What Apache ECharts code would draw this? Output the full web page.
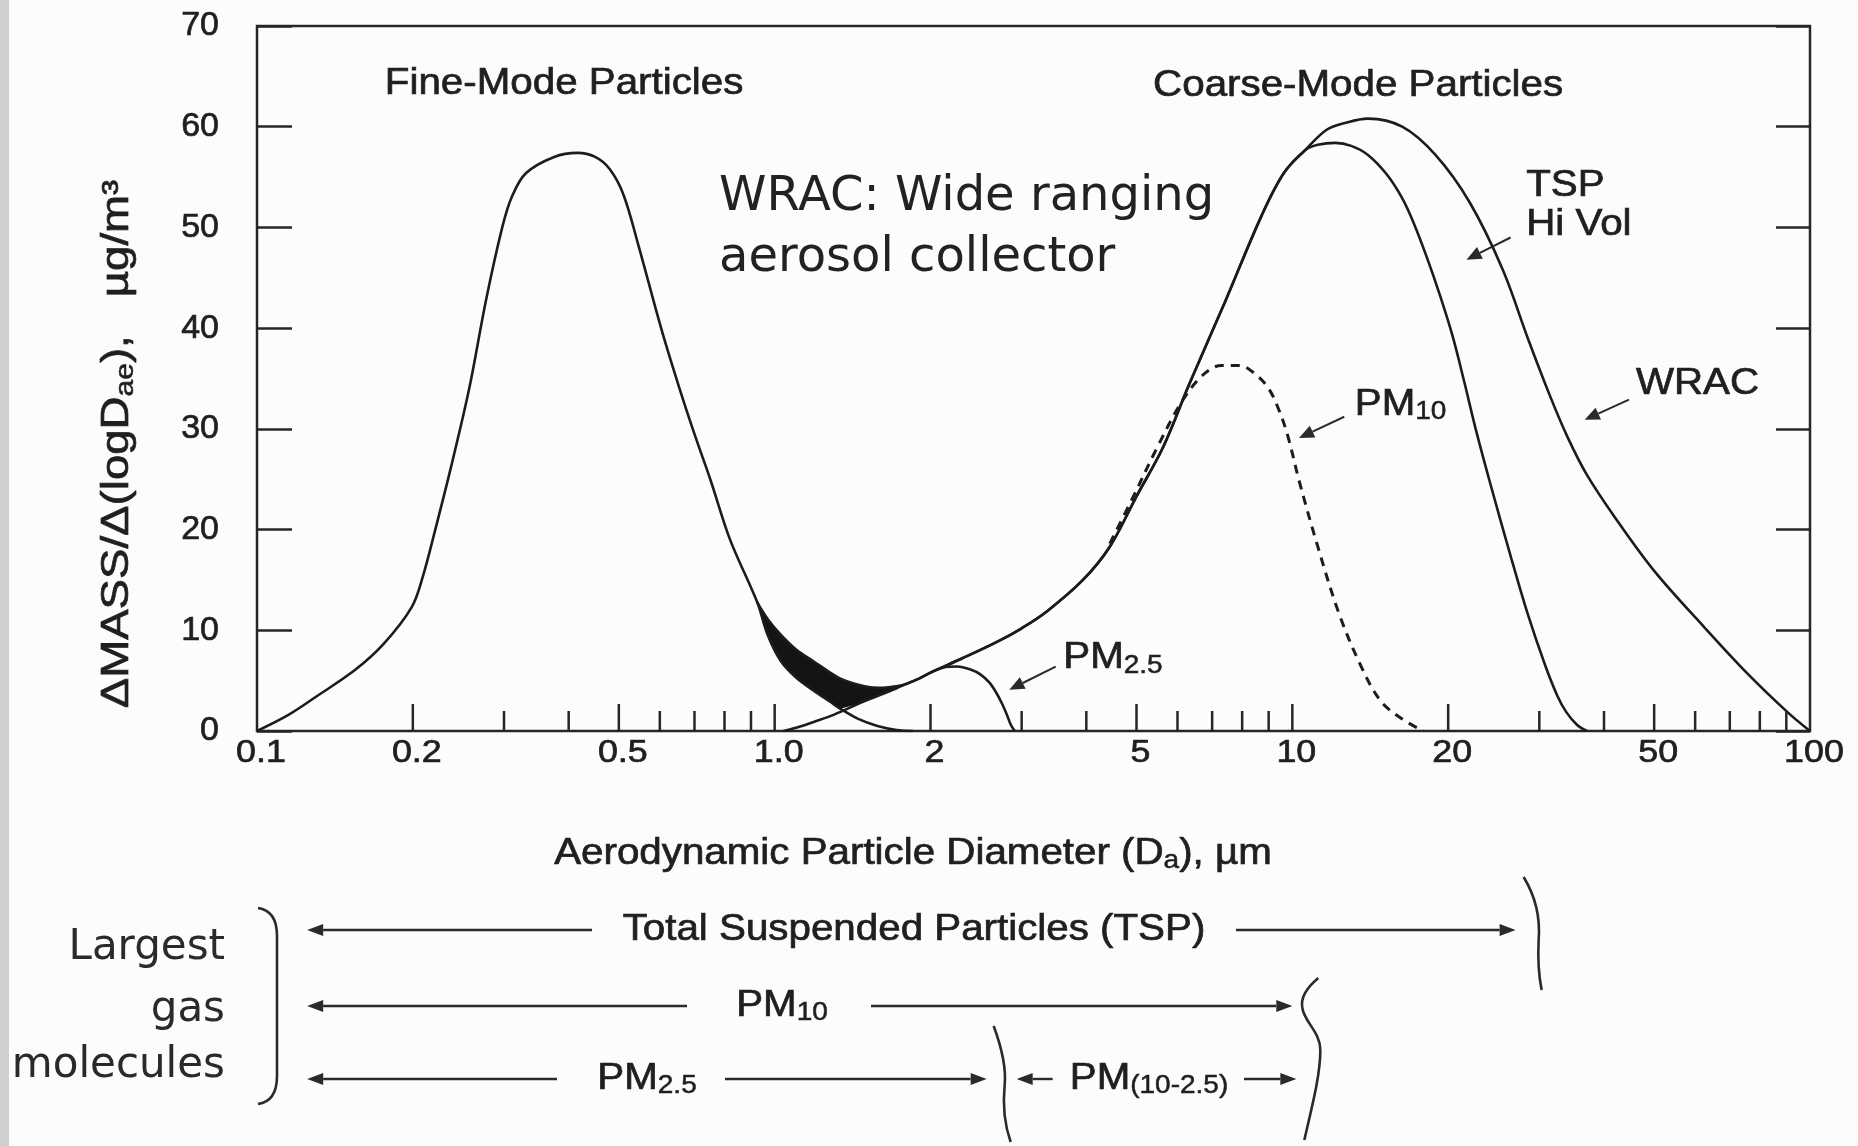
<!DOCTYPE html>
<html>
<head>
<meta charset="utf-8">
<title>Aerosol mass distribution</title>
<script src="https://cdn.jsdelivr.net/npm/echarts@6/dist/echarts.min.js"></script>
<style>
  html, body { margin: 0; padding: 0; background: #fcfcfc; }
  #chart { width: 1858px; height: 1146px; }
</style>
</head>
<body>
<div id="chart"></div>
<script>
// values: diameter in µm, ΔMASS/Δ(logD) in µg/m3
const fineX = [0.1, 0.115, 0.13, 0.155, 0.176, 0.199, 0.209, 0.221, 0.237, 0.257, 0.277, 0.298, 0.311, 0.331, 0.375, 0.416, 0.45, 0.48, 0.51, 0.545, 0.605, 0.655, 0.702, 0.752, 0.82, 0.925, 0.97, 1.026, 1.1, 1.19, 1.28, 1.34, 1.45, 1.58, 1.72, 1.85];
const fineY = [0, 1.6, 3.4, 6.1, 8.7, 12.3, 15.3, 20.0, 26.2, 34.0, 42.8, 50.1, 53.1, 55.4, 57.0, 57.4, 57.0, 55.8, 53.3, 48.3, 39.8, 34.0, 29.3, 24.9, 19.0, 12.8, 9.5, 7.0, 5.3, 4.0, 2.9, 2.2, 1.2, 0.5, 0.1, 0];

// coarse mode, rising part shared by TSP and WRAC
const coarseX = [1.04, 1.12, 1.19, 1.27, 1.34, 1.45, 1.53, 1.62, 1.72, 1.8, 1.9, 2.0, 2.3, 2.7, 3.0, 3.36, 3.94, 4.44, 5.0, 5.63, 6.33, 7.44, 8.71, 9.63, 10.6];
const coarseY = [0, 0.45, 0.9, 1.4, 1.9, 2.7, 3.2, 3.7, 4.25, 4.7, 5.2, 5.8, 7.2, 8.9, 10.2, 11.9, 15.0, 18.3, 23.3, 28.2, 34.5, 42.8, 51.1, 55.4, 57.7];

const tspX = [11.2, 12.1, 13.0, 14.0, 15.2, 16.3, 17.2, 18.2, 19.3, 20.4, 21.5, 22.6, 24.2, 26.5, 28.5, 30.8, 32.5, 33.8, 35.5, 37.1];
const tspY = [58.2, 58.4, 58.1, 57.2, 55.3, 52.9, 50.3, 47.0, 43.2, 39.2, 34.6, 30.0, 24.3, 17.1, 11.6, 6.5, 3.5, 1.9, 0.6, 0];

const wracX = [11.65, 12.7, 14.0, 16.3, 18.9, 22.0, 25.5, 28.5, 31.5, 34.0, 37.0, 42.0, 50.0, 62.5, 75.4, 90.8, 100];
const wracY = [59.7, 60.4, 60.8, 60.0, 57.2, 52.5, 45.8, 39.0, 33.2, 29.2, 25.5, 21.2, 15.9, 10.3, 5.8, 1.8, 0];

// total (WRAC) curve bridging the two modes, and the lower edge of the shaded overlap
const bridgeX = [0.925, 0.97, 1.026, 1.1, 1.19, 1.28, 1.34, 1.45, 1.53, 1.62, 1.72, 1.8];
const bridgeY = [12.8, 11.1, 9.6, 8.1, 6.9, 5.8, 5.2, 4.6, 4.35, 4.3, 4.45, 4.7];
const shadeLow = [12.8, 9.5, 7.0, 5.3, 4.0, 2.9, 2.2, 2.7, 3.2, 3.7, 4.25, 4.7];

const pm25X = [2.0, 2.12, 2.25, 2.39, 2.5, 2.6, 2.68, 2.75, 2.81, 2.86, 2.91];
const pm25Y = [5.8, 6.3, 6.4, 6.1, 5.6, 4.8, 3.8, 2.7, 1.6, 0.6, 0];

const pm10X = [4.44, 4.9, 5.5, 6.1, 6.7, 7.3, 7.9, 8.5, 9.0, 9.4, 9.8, 10.3, 11.2, 12.3, 13.5, 14.8, 16.3, 17.9];
const pm10Y = [18.6, 23.0, 28.3, 32.6, 35.3, 36.3, 36.3, 35.4, 34.0, 32.0, 29.3, 24.9, 18.3, 11.7, 6.7, 3.0, 1.2, 0];

// x axis ticks and labels
const xTickValues = [0.2, 0.3, 0.4, 0.5, 0.6, 0.7, 0.8, 0.9, 1, 2, 3, 4, 5, 6, 7, 8, 9, 10, 20, 30, 40, 50, 60, 70, 80, 90];
const xLabelValues = [0.1, 0.2, 0.5, 1, 2, 5, 10, 20, 50, 100];
const xLabelTexts = ['0.1', '0.2', '0.5', '1.0', '2', '5', '10', '20', '50', '100'];

// size ranges of the bottom arrows (µm)
const rangeStart = 0.125;
const tspEnd = 27;
const pm10End = 10;
const pm25End = 2.5;

const INK = '#1c1c1c';
const TXT = '#1f1f1f';
const FIG_FONT = 'Liberation Sans, Arial, sans-serif';
const SLIDE_FONT = 'DejaVu Sans, Verdana, sans-serif';
const SX = 1.12; // the scanned figure is a little wider than the typeface

function pairs(xs, ys) {
  return xs.map((x, i) => [x, ys[i]]);
}

function curve(name, data, extra) {
  return Object.assign({
    name: name,
    type: 'line',
    data: data,
    symbol: 'none',
    smooth: 0.35,
    silent: true,
    lineStyle: { color: INK, width: 2.6 },
    z: 3
  }, extra || {});
}

const chart = echarts.init(document.getElementById('chart'));

const option = {
  backgroundColor: '#fcfcfc',
  animation: false,
  grid: {
    left: 257, right: 48, top: 26, bottom: 415,
    show: true, borderColor: '#262626', borderWidth: 2.5
  },
  xAxis: {
    type: 'log', logBase: 10, min: 0.1, max: 100,
    axisLine: { show: false }, axisTick: { show: false },
    axisLabel: { show: false }, splitLine: { show: false }
  },
  yAxis: [
    {
      type: 'value', min: 0, max: 70, interval: 10, position: 'left',
      axisLine: { show: false },
      axisTick: { show: true, inside: true, length: 35, lineStyle: { color: '#262626', width: 2.5 } },
      axisLabel: {
        margin: 38, fontSize: 34, fontFamily: FIG_FONT, color: TXT,
        textBorderColor: TXT, textBorderWidth: 0.7
      },
      splitLine: { show: false }
    },
    {
      type: 'value', min: 0, max: 70, interval: 10, position: 'right',
      axisLine: { show: false },
      axisTick: { show: true, inside: true, length: 34, lineStyle: { color: '#262626', width: 2.5 } },
      axisLabel: { show: false },
      splitLine: { show: false }
    }
  ],
  series: [
    {
      name: 'overlap',
      type: 'custom',
      silent: true,
      z: 2,
      data: [[1, 0]],
      renderItem: function (params, api) {
        const top = bridgeX.map((x, i) => api.coord([x, bridgeY[i]]));
        const low = bridgeX.map((x, i) => api.coord([x, shadeLow[i]])).reverse();
        return { type: 'polygon', shape: { points: top.concat(low) }, style: { fill: '#141414' } };
      }
    },
    curve('Fine mode', pairs(fineX, fineY)),
    curve('TSP Hi Vol', pairs(coarseX, coarseY).concat(pairs(tspX, tspY))),
    curve('WRAC', pairs(bridgeX, bridgeY)
      .concat(pairs(coarseX, coarseY).filter(p => p[0] > 1.8))
      .concat(pairs(wracX, wracY))),
    curve('PM2.5', pairs(pm25X, pm25Y), { smooth: 0.3 }),
    curve('PM10', pairs(pm10X, pm10Y), { lineStyle: { color: INK, width: 3, type: [9, 7] } }),
    {
      name: 'x ticks',
      type: 'custom',
      silent: true,
      z: 4,
      data: xTickValues.map(v => [v, 0]),
      renderItem: function (params, api) {
        const v = xTickValues[params.dataIndex];
        const p = api.coord([v, 0]);
        const tall = xLabelValues.indexOf(v) >= 0;
        return {
          type: 'line',
          shape: { x1: p[0], y1: p[1], x2: p[0], y2: p[1] - (tall ? 27 : 20) },
          style: { stroke: '#262626', lineWidth: 2.5 }
        };
      }
    },
    {
      name: 'x labels',
      type: 'custom',
      silent: true,
      z: 4,
      data: xLabelValues.map(v => [v, 0]),
      renderItem: function (params, api) {
        const p = api.coord([xLabelValues[params.dataIndex], 0]);
        return {
          type: 'text',
          x: p[0] + 4, y: p[1] + 22, scaleX: SX,
          style: {
            text: xLabelTexts[params.dataIndex],
            font: '32px ' + FIG_FONT, fill: TXT,
            stroke: TXT, lineWidth: 0.7,
            align: 'center', verticalAlign: 'middle'
          }
        };
      }
    }
  ]
};

chart.setOption(option);

// ---- annotations ----
function px(d, v) {
  return chart.convertToPixel({ xAxisIndex: 0, yAxisIndex: 0 }, [d, v]);
}

function arrow(x1, y1, x2, y2, head, half, width) {
  const dx = x2 - x1, dy = y2 - y1, L = Math.hypot(dx, dy);
  const ux = dx / L, uy = dy / L;
  const bx = x2 - ux * head, by = y2 - uy * head;
  return [
    { type: 'line', shape: { x1: x1, y1: y1, x2: bx, y2: by }, style: { stroke: '#2a2a2a', lineWidth: width } },
    { type: 'polygon', shape: { points: [[x2, y2], [bx - uy * half, by + ux * half], [bx + uy * half, by - ux * half]] }, style: { fill: '#2a2a2a' } }
  ];
}

// rich tokens take zrender style names: stroke / lineWidth thicken the glyphs a little
const sub = { fontSize: 25, fontFamily: FIG_FONT, verticalAlign: 'bottom', lineHeight: 22, fill: TXT, stroke: TXT, lineWidth: 0.5 };
const main = { fontSize: 36, fontFamily: FIG_FONT, lineHeight: 40, fill: TXT, stroke: TXT, lineWidth: 0.7 };

function figText(x, y, text, align) {
  return {
    type: 'text', x: x, y: y, scaleX: SX,
    style: {
      text: text.indexOf('{') >= 0 ? text : '{m|' + text + '}',
      fill: TXT, align: align || 'center', verticalAlign: 'middle',
      rich: { m: main, s: sub }
    }
  };
}

const notes = [
  { text: 'Fine-Mode Particles', at: [0.392, 64.2], align: 'center' },
  { text: 'Coarse-Mode Particles', at: [13.4, 64.0], align: 'center' },
  { text: 'TSP', at: [28.3, 54.1], align: 'left' },
  { text: 'Hi Vol', at: [28.3, 50.2], align: 'left' },
  { text: 'WRAC', at: [46.1, 34.4], align: 'left' },
  { text: '{m|PM}{s|10}', at: [13.2, 32.4], align: 'left' },
  { text: '{m|PM}{s|2.5}', at: [3.61, 7.2], align: 'left' }
];

const pointers = [
  { from: [26.4, 49.0], to: [21.7, 46.8] },
  { from: [44.7, 32.9], to: [36.7, 30.9] },
  { from: [12.6, 31.2], to: [10.3, 29.1] },
  { from: [3.49, 6.4], to: [2.84, 4.1] }
];

const els = [];
els.push({ type: 'rect', shape: { x: 0, y: 0, width: 9, height: 1146 }, style: { fill: '#cfcfcf' } });

notes.forEach(n => {
  const p = px(n.at[0], n.at[1]);
  els.push(figText(p[0], p[1], n.text, n.align));
});
pointers.forEach(a => {
  const p = px(a.from[0], a.from[1]);
  const q = px(a.to[0], a.to[1]);
  els.push.apply(els, arrow(p[0], p[1], q[0], q[1], 15, 6.5, 2));
});

// slide note
const w = px(0.781, 53.0);
const w2 = px(0.781, 46.9);
els.push({ type: 'text', x: w[0], y: w[1], style: { text: 'WRAC: Wide ranging', font: '48px ' + SLIDE_FONT, fill: '#222', align: 'left', verticalAlign: 'middle' } });
els.push({ type: 'text', x: w2[0], y: w2[1], style: { text: 'aerosol collector', font: '48px ' + SLIDE_FONT, fill: '#222', align: 'left', verticalAlign: 'middle' } });

// axis titles
els.push(figText(913, 854, '{m|Aerodynamic Particle Diameter (D}{s|a}{m|), µm}'));
els.push({
  type: 'text', x: 118, y: 444, rotation: Math.PI / 2, scaleX: 1.2,
  style: {
    text: '{m|ΔMASS/Δ(logD}{s|ae}{m|),   µg/m³}', fill: TXT,
    align: 'center', verticalAlign: 'middle',
    rich: {
      m: { fontSize: 38, fontFamily: FIG_FONT, lineHeight: 42, fill: TXT, stroke: TXT, lineWidth: 0.7 },
      s: { fontSize: 25, fontFamily: FIG_FONT, verticalAlign: 'bottom', lineHeight: 22, fill: TXT, stroke: TXT, lineWidth: 0.5 }
    }
  }
});

// bottom size ranges
const xs = px(rangeStart, 0)[0];
const xt = px(tspEnd, 0)[0];
const x10 = px(pm10End, 0)[0];
const x25 = px(pm25End, 0)[0];
const r1 = 930, r2 = 1006, r3 = 1079;

els.push.apply(els, arrow(592, r1, xs, r1, 16, 6, 2.4));
els.push(figText(914, r1, 'Total Suspended Particles (TSP)'));
els.push.apply(els, arrow(1236, r1, xt, r1, 16, 6, 2.4));

els.push.apply(els, arrow(687, r2, xs, r2, 16, 6, 2.4));
els.push(figText(782, r2, '{m|PM}{s|10}'));
els.push.apply(els, arrow(871, r2, x10, r2, 16, 6, 2.4));

els.push.apply(els, arrow(557, r3, xs, r3, 16, 6, 2.4));
els.push(figText(647, r3, '{m|PM}{s|2.5}'));
els.push.apply(els, arrow(725, r3, x25 + 6, r3, 16, 6, 2.4));
els.push.apply(els, arrow(x25 + 72, r3, x25 + 36, r3, 16, 6, 2.4));
els.push(figText(1149, r3, '{m|PM}{s|(10-2.5)}'));
els.push.apply(els, arrow(1244, r3, x10 + 4, r3, 16, 6, 2.4));

// brackets drawn as cubic pieces
const brace = { stroke: '#2a2a2a', lineWidth: 2.6, fill: null };
function cubic(x1, y1, c1x, c1y, c2x, c2y, x2, y2) {
  return { type: 'bezierCurve', shape: { x1: x1, y1: y1, cpx1: c1x, cpy1: c1y, cpx2: c2x, cpy2: c2y, x2: x2, y2: y2 }, style: brace };
}
els.push(cubic(258, 908, 272, 910, 277, 920, 277, 936));
els.push({ type: 'line', shape: { x1: 277, y1: 936, x2: 277, y2: 1076 }, style: brace });
els.push(cubic(277, 1076, 277, 1092, 272, 1102, 258, 1104));

els.push(cubic(xt + 8, 877, xt + 19, 895, xt + 25, 915, xt + 23, 940));
els.push(cubic(xt + 23, 940, xt + 22, 960, xt + 23, 975, xt + 26, 990));

els.push(cubic(x10 + 26, 978, x10 + 14, 988, x10 + 8, 998, x10 + 10, 1008));
els.push(cubic(x10 + 10, 1008, x10 + 12, 1022, x10 + 28, 1032, x10 + 28, 1050));
els.push(cubic(x10 + 28, 1050, x10 + 28, 1075, x10 + 20, 1105, x10 + 12, 1140));

els.push(cubic(x25 + 13, 1026, x25 + 20, 1045, x25 + 26, 1065, x25 + 24, 1085));
els.push(cubic(x25 + 24, 1085, x25 + 22, 1105, x25 + 24, 1125, x25 + 30, 1142));

const gas = ['Largest', 'gas', 'molecules'];
[948, 1010, 1066].forEach((y, i) => {
  els.push({ type: 'text', x: 225, y: y, style: { text: gas[i], font: '42px ' + SLIDE_FONT, fill: '#2a2a2a', align: 'right', verticalAlign: 'middle' } });
});

chart.setOption({ graphic: { elements: els } });
</script>
</body>
</html>
